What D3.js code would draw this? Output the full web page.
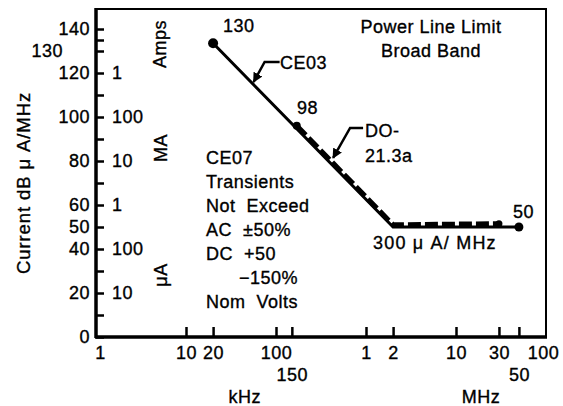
<!DOCTYPE html>
<html>
<head>
<meta charset="utf-8">
<script src="https://cdnjs.cloudflare.com/ajax/libs/d3/7.8.5/d3.min.js"></script>
<style>
  html, body { margin: 0; padding: 0; background: #fff; }
  svg { display: block; }
  text { font-family: "Liberation Sans", Arial, Helvetica, sans-serif; fill: #000; stroke: #000; stroke-width: 0.35px; letter-spacing: 0.5px; }
</style>
</head>
<body>
<svg id="chart" width="563" height="406"></svg>
<script>
// ---- data (frequency in kHz, level in dB µA/MHz) ----
const ce03Freq  = [20, 2000, 50000];
const ce03Level = [133.5, 50, 50];
const doFreq    = [170, 2000, 30000];
const doLevel   = [96, 51, 51.5];

// axis ticks and labels
const yTicks        = [0,10,20,30,40,50,60,70,80,90,100,110,120,130,135,140];
const yLabels       = [0,20,40,50,60,80,100,120,140];
const yOffsetLabel  = [130];
const yInnerValues  = [120,100,80,60,40,20];
const yInnerLabels  = ["1","100","10","1","100","10"];
const xTicks        = [10,20,100,150,1000,2000,10000,30000,50000];
const xRow1Values   = [1,10,20,100,1000,2000,10000,30000,100000];
const xRow1Labels   = ["1","10","20","100","1","2","10","30","100"];
const xRow2Values   = [150,50000];
const xRow2Labels   = ["150","50"];
const noteLines     = ["CE07","Transients","Not  Exceed","AC  \u00b150%","DC  +50","      \u2212150%","Nom  Volts"];

const svg = d3.select("#chart");
const L = 96, R = 546, T = 9, B = 337;
const x = d3.scaleLog().domain([1, 100000]).range([L, R]);
const y = d3.scaleLinear().domain([0, 140]).range([B, 29]);
const FS = 18;

// frame (top and right)
svg.append("path").attr("d", `M${L},${T}H${R}V${B}`).attr("fill","none").attr("stroke","#000").attr("stroke-width",2);

// Y axis (ticks inward)
const yAxis = svg.append("g").attr("transform", `translate(${L},0)`)
  .call(d3.axisLeft(y).tickValues(yTicks).tickSize(-8).tickPadding(6)
    .tickFormat(d => (yLabels.includes(d) || yOffsetLabel.includes(d)) ? d : ""));
yAxis.select(".domain").remove();
yAxis.selectAll(".tick line").attr("stroke","#000").attr("stroke-width",2.5);
yAxis.selectAll(".tick text").attr("font-size",FS).attr("font-family",null)
  .attr("x", d => yOffsetLabel.includes(d) ? -33 : -6);
svg.append("line").attr("x1",L).attr("x2",L).attr("y1",T-1).attr("y2",B+1).attr("stroke","#000").attr("stroke-width",3.5);

// inner labels
const yIn = svg.append("g").attr("transform", `translate(${L},0)`)
  .call(d3.axisRight(y).tickValues(yInnerValues).tickSize(0).tickPadding(16)
    .tickFormat((d,i) => yInnerLabels[i]));
yIn.select(".domain").remove();
yIn.selectAll(".tick text").attr("font-size",FS).attr("font-family",null);

// X axis ticks inward
const xAxis = svg.append("g").attr("transform", `translate(0,${B})`)
  .call(d3.axisBottom(x).tickValues(xTicks).tickSize(-10).tickFormat(""));
xAxis.select(".domain").remove();
xAxis.selectAll(".tick line").attr("stroke","#000").attr("stroke-width",2.5);
svg.append("line").attr("x1",L-1).attr("x2",R+1).attr("y1",B).attr("y2",B).attr("stroke","#000").attr("stroke-width",3.5);

const xr1 = svg.append("g").attr("transform", `translate(0,${B})`)
  .call(d3.axisBottom(x).tickValues(xRow1Values).tickSize(0).tickPadding(9)
    .tickFormat((d,i) => xRow1Labels[i]));
xr1.select(".domain").remove();
xr1.selectAll(".tick text").attr("font-size",FS).attr("font-family",null)
  .attr("dx", d => d === 1 ? 4 : (d === 100000 ? -3 : 0));
const xr2 = svg.append("g").attr("transform", `translate(0,${B})`)
  .call(d3.axisBottom(x).tickValues(xRow2Values).tickSize(0).tickPadding(31)
    .tickFormat((d,i) => xRow2Labels[i]));
xr2.select(".domain").remove();
xr2.selectAll(".tick text").attr("font-size",FS).attr("font-family",null);

svg.append("text").attr("x", x(45)).attr("y", 403).attr("text-anchor","middle").attr("font-size",FS).text("kHz");
svg.append("text").attr("x", x(19000)).attr("y", 403).attr("text-anchor","middle").attr("font-size",FS).text("MHz");

// axis titles
svg.append("text").attr("transform","translate(30,183) rotate(-90)").attr("text-anchor","middle")
  .attr("font-size",18.5).style("letter-spacing","0.9px").text("Current dB \u03bc A/MHz");
svg.append("text").attr("transform","translate(166,44) rotate(-90)").attr("text-anchor","middle").attr("font-size",FS).text("Amps");
svg.append("text").attr("transform","translate(167,148) rotate(-90)").attr("text-anchor","middle").attr("font-size",FS).text("MA");
svg.append("text").attr("transform","translate(167,275) rotate(-90)").attr("text-anchor","middle").attr("font-size",FS).text("\u03bcA");

// data lines
const line = d3.line().x(d => x(d[0])).y(d => y(d[1]));
const ce03 = ce03Freq.map((f,i) => [f, ce03Level[i]]);
const dol  = doFreq.map((f,i) => [f, doLevel[i]]);

svg.append("path").datum(dol).attr("d", line).attr("fill","none").attr("stroke","#000")
  .attr("stroke-width",5).attr("stroke-dasharray","13,4");
svg.append("path").datum(ce03).attr("d", line).attr("fill","none").attr("stroke","#000").attr("stroke-width",3);

svg.append("circle").attr("cx", x(ce03Freq[0])).attr("cy", y(ce03Level[0])).attr("r",5);
svg.append("circle").attr("cx", x(ce03Freq[2])).attr("cy", y(ce03Level[2])).attr("r",4.5);
svg.append("circle").attr("cx", x(doFreq[0])).attr("cy", y(doLevel[0])).attr("r",4);
svg.append("circle").attr("cx", x(doFreq[2])).attr("cy", y(doLevel[2])).attr("r",3.5);

// point labels
svg.append("text").attr("x", 223).attr("y", 32).attr("font-size",FS).text("130");
svg.append("text").attr("x", 297).attr("y", 114).attr("font-size",FS).text("98");
svg.append("text").attr("x", 513).attr("y", 218).attr("font-size",FS).text("50");
svg.append("text").attr("x", 373).attr("y", 249).attr("font-size",FS).style("letter-spacing","1.2px").text("300 \u03bc A/ MHz");

// title
svg.append("text").attr("x", 431).attr("y", 33).attr("text-anchor","middle").attr("font-size",FS).text("Power Line Limit");
svg.append("text").attr("x", 431).attr("y", 57).attr("text-anchor","middle").attr("font-size",FS).text("Broad Band");

// annotation arrows
const defs = svg.append("defs");
defs.append("marker").attr("id","ah").attr("viewBox","0 0 10 10").attr("refX",9).attr("refY",5)
  .attr("markerWidth",4).attr("markerHeight",4).attr("orient","auto")
  .append("path").attr("d","M0,0L10,5L0,10Z").attr("fill","#000");

const ceTip = [x(55), y(115)];
svg.append("path").attr("d", `M${ceTip[0]+27},${ceTip[1]-22}H${ceTip[0]+12}L${ceTip[0]+1},${ceTip[1]-2}`)
  .attr("fill","none").attr("stroke","#000").attr("stroke-width",2.5).attr("marker-end","url(#ah)");
svg.append("text").attr("x", 280).attr("y", 69).attr("font-size",FS).text("CE03");

const doTip = [x(420), y(80.5)];
svg.append("path").attr("d", `M${doTip[0]+31},${doTip[1]-32}H${doTip[0]+18}L${doTip[0]+1},${doTip[1]-2}`)
  .attr("fill","none").attr("stroke","#000").attr("stroke-width",2.5).attr("marker-end","url(#ah)");
svg.append("text").attr("x", 365).attr("y", 137).attr("font-size",FS).text("DO-");
svg.append("text").attr("x", 365).attr("y", 162).attr("font-size",FS).text("21.3a");

// CE07 notes
svg.append("g").selectAll("text").data(noteLines).join("text")
  .attr("x", 206).attr("y", (d,i) => 164 + i*24).attr("font-size",FS)
  .attr("xml:space","preserve").style("white-space","pre").text(d => d);
</script>
</body>
</html>
